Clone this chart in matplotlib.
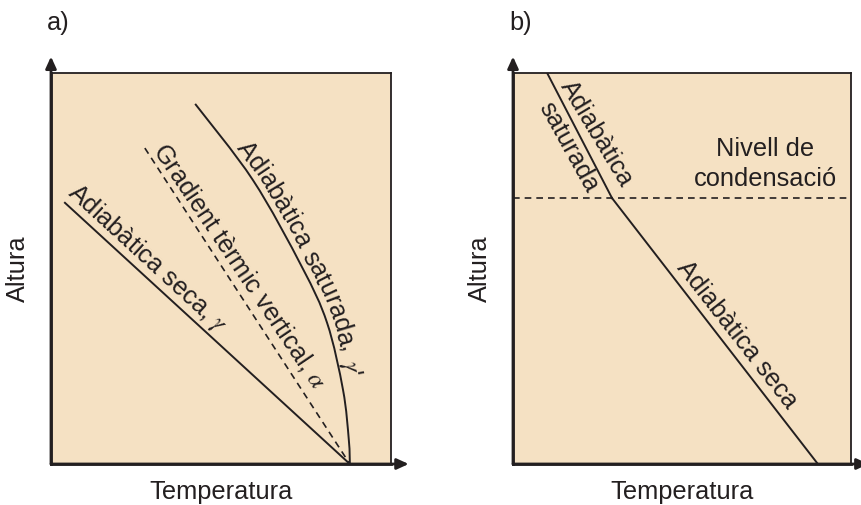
import numpy as np
import matplotlib
matplotlib.use("Agg")
import matplotlib.pyplot as plt
from matplotlib.font_manager import FontProperties
from matplotlib.path import Path
from matplotlib.patches import PathPatch

plt.rcParams['font.family'] = ['Liberation Sans', 'DejaVu Sans']
plt.rcParams['mathtext.fontset'] = 'stix'

# panel a: temperature vs height profiles (arbitrary units 0-10)
dry_a_x = [0.41, 8.79]
dry_a_y = [6.68, 0.0]
env_a_x = [2.76, 8.79]
env_a_y = [8.08, 0.0]
sat_a_x = [4.24, 5.94, 7.38, 8.12, 8.59, 8.76, 8.79]
sat_a_y = [9.21, 7.26, 5.04, 3.61, 1.89, 0.61, 0.0]

# panel b: saturated above condensation level, dry below
sat_b_x = [1.01, 2.93]
sat_b_y = [10.0, 6.80]
dry_b_x = [2.93, 9.02]
dry_b_y = [6.80, 0.0]
cond_level = 6.80

x_label = "Temperatura"
y_label = "Altura"
panel_tags = ["a)", "b)"]

bg = '#f5e1c3'
ink = '#231f20'
fs = 18.3

fig = plt.figure(figsize=(8.62, 5.05), dpi=100)
ax_a = fig.add_axes([51 / 862, 41 / 505, 340 / 862, 391 / 505])
ax_b = fig.add_axes([513 / 862, 41 / 505, 338 / 862, 391 / 505])


def setup(ax, tag):
    """frame, arrows and axis labels shared by both panels"""
    ax.set_xlim(0, 10)
    ax.set_ylim(0, 10)
    ax.set_facecolor(bg)
    ax.set_xticks([])
    ax.set_yticks([])
    for side in ['top', 'right']:
        ax.spines[side].set_linewidth(1.3)
        ax.spines[side].set_color(ink)
    for side in ['left', 'bottom']:
        ax.spines[side].set_linewidth(2.0)
        ax.spines[side].set_color(ink)
    arrow = dict(arrowstyle='-|>,head_length=0.7,head_width=0.32', lw=2.0,
                 color=ink, shrinkA=0, shrinkB=0)
    ax.annotate('', xy=(0, 1.042), xytext=(0, 0), xycoords='axes fraction',
                arrowprops=arrow, annotation_clip=False)
    ax.annotate('', xy=(1.052, 0), xytext=(0, 0), xycoords='axes fraction',
                arrowprops=arrow, annotation_clip=False)
    ax.text(0.5, -0.072, x_label, transform=ax.transAxes, ha='center', va='center',
            fontsize=fs, color=ink)
    ax.text(-0.098, 0.5, y_label, transform=ax.transAxes, ha='center', va='center',
            rotation=90, fontsize=fs, color=ink)
    ax.text(-0.012, 1.128, tag, transform=ax.transAxes, ha='left', va='center',
            fontsize=fs, color=ink)


def smooth_path(xs, ys):
    """Catmull-Rom curve through the read points, as cubic bezier segments"""
    p = np.column_stack([xs, ys])
    ext = np.vstack([p[0], p, p[-1]])
    verts = [p[0]]
    codes = [Path.MOVETO]
    for i in range(len(p) - 1):
        p0, p1, p2, p3 = ext[i], ext[i + 1], ext[i + 2], ext[i + 3]
        verts += [p1 + (p2 - p0) / 6, p2 - (p3 - p1) / 6, p2]
        codes += [Path.CURVE4] * 3
    return Path(np.array(verts), codes)


def text_on_curve(ax, path, tokens, y_center, offset_px=5):
    """writes tokens one by one along a path, baseline shifted offset_px to its upper side"""
    renderer = fig.canvas.get_renderer()
    prop = FontProperties(family=plt.rcParams['font.family'], size=fs)

    def width(s):
        # a sentinel keeps trailing spaces from being dropped
        w = renderer.get_text_width_height_descent(s + "|", prop, ismath=True)[0]
        return w - renderer.get_text_width_height_descent("|", prop, ismath=True)[0]

    pts = ax.transData.transform(path.to_polygons(closed_only=False)[0])
    seg = np.hypot(*np.diff(pts, axis=0).T)
    s = np.concatenate([[0], np.cumsum(seg)])
    fine_s = np.linspace(0, s[-1], 800)
    px = np.interp(fine_s, s, pts[:, 0])
    py = np.interp(fine_s, s, pts[:, 1])
    yc_disp = ax.transData.transform((0, y_center))[1]
    s_mid = fine_s[np.argmin(np.abs(py - yc_disp))]

    total = width("".join(tokens))
    pos = s_mid - total / 2
    prefix = ""
    for tok in tokens:
        sc = pos + width(prefix) + width(tok) / 2
        prefix += tok
        if tok == " ":
            continue
        a = np.interp(sc - 10, fine_s, px), np.interp(sc - 10, fine_s, py)
        b = np.interp(sc + 10, fine_s, px), np.interp(sc + 10, fine_s, py)
        ang = np.arctan2(b[1] - a[1], b[0] - a[0])
        cx = np.interp(sc, fine_s, px) - np.sin(ang) * offset_px
        cy = np.interp(sc, fine_s, py) + np.cos(ang) * offset_px
        xd, yd = ax.transData.inverted().transform((cx, cy))
        ax.text(xd, yd, tok, rotation=np.degrees(ang), ha='center', va='baseline',
                rotation_mode='anchor', fontsize=fs, color=ink)


setup(ax_a, panel_tags[0])
setup(ax_b, panel_tags[1])

# panel a
ax_a.plot(dry_a_x, dry_a_y, color=ink, lw=1.4)
ax_a.plot(env_a_x, env_a_y, color=ink, lw=1.2, dashes=(4, 3))
sat_path = smooth_path(sat_a_x, sat_a_y)
ax_a.add_patch(PathPatch(sat_path, facecolor='none', edgecolor=ink, lw=1.4))
ax_a.text(2.85, 5.27, r"Adiabàtica seca, $\gamma$", rotation=-42.5, ha='center', va='center',
          rotation_mode='anchor', fontsize=fs, color=ink)
ax_a.text(5.55, 5.05, r"Gradient tèrmic vertical, $\alpha$", rotation=-56, ha='center',
          va='center', rotation_mode='anchor', fontsize=fs, color=ink)
sat_tokens = list("Adiabàtica saturada, ") + [r"$\gamma$'"]
text_on_curve(ax_a, sat_path, sat_tokens, y_center=5.25, offset_px=5)

# panel b
ax_b.plot(sat_b_x, sat_b_y, color=ink, lw=1.4)
ax_b.plot(dry_b_x, dry_b_y, color=ink, lw=1.4)
ax_b.axhline(cond_level, color=ink, lw=1.2, dashes=(4, 3))
ax_b.text(2.49, 8.44, "Adiabàtica", rotation=-59, ha='center', va='center',
          rotation_mode='anchor', fontsize=fs, color=ink)
ax_b.text(1.63, 8.11, "saturada", rotation=-61, ha='center', va='center',
          rotation_mode='anchor', fontsize=fs, color=ink)
ax_b.text(7.46, 7.67, "Nivell de\ncondensació", ha='center', va='center',
          linespacing=1.3, fontsize=fs, color=ink)
ax_b.text(6.63, 3.30, "Adiabàtica seca", rotation=-52, ha='center', va='center',
          rotation_mode='anchor', fontsize=fs, color=ink)

fig.savefig("out.png", dpi=100)
